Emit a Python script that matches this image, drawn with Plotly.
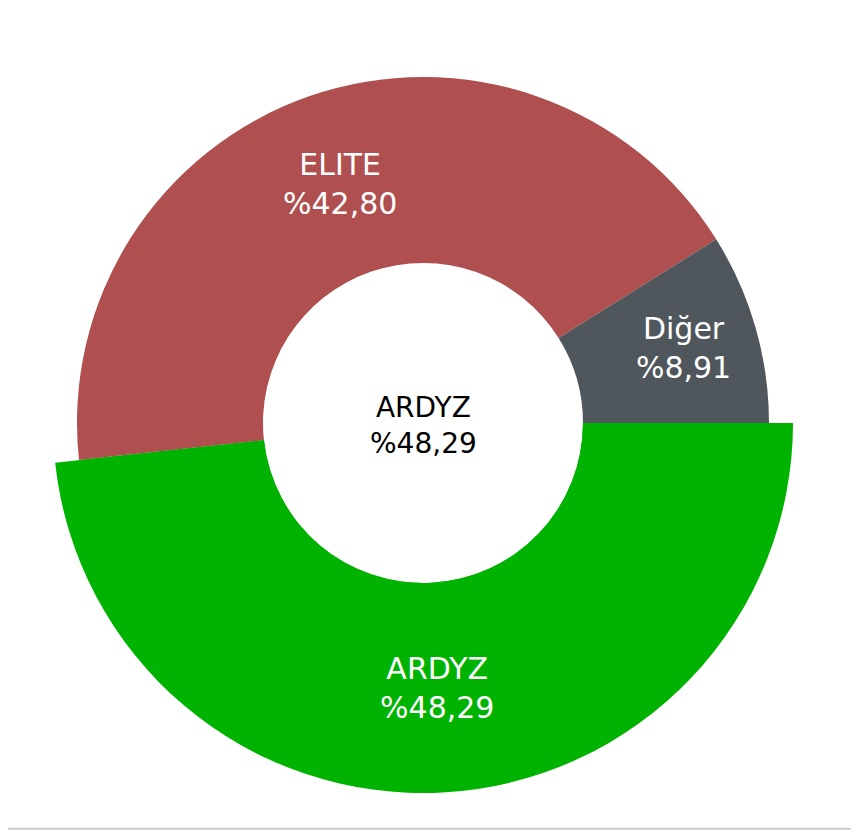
import plotly.graph_objects as go

# Data
labels = ["ARDYZ", "ELITE", "Diğer"]
values = [48.29, 42.80, 8.91]
colors = ["#00B300", "#B04F4F", "#50575C"]

# page has an 8px body margin, so figure fits inside 859x838 window
W, H = 843, 822

def pct(v):
    return "%" + f"{v:.2f}".replace(".", ",")

texts = [f"{l}<br>{pct(v)}" for l, v in zip(labels, values)]

# Geometry (figure pixels)
cx, cy = 415, 415
r_small, r_big, r_hole = 346, 370, 160

def dom(r):
    return dict(
        x=[(cx - r) / W, (cx + r) / W],
        y=[(H - cy - r) / H, (H - cy + r) / H],
    )

label_font = dict(family="DejaVu Sans", size=30, color="white")

fig = go.Figure()

# Base donut (ELITE, Diğer)
fig.add_trace(go.Pie(
    labels=labels, values=values, sort=False, direction="clockwise", rotation=90,
    hole=r_hole / r_small, domain=dom(r_small),
    marker=dict(colors=colors, line=dict(width=0)),
    text=["", texts[1], texts[2]], textinfo="text", textposition="inside",
    insidetextorientation="horizontal",
    textfont=label_font,
    showlegend=False, hoverinfo="label+percent",
))

# Enlarged ARDYZ slice
fig.add_trace(go.Pie(
    labels=labels, values=values, sort=False, direction="clockwise", rotation=90,
    hole=r_hole / r_big, domain=dom(r_big),
    marker=dict(colors=[colors[0], "rgba(0,0,0,0)", "rgba(0,0,0,0)"], line=dict(width=0)),
    text=[texts[0], "", ""], textinfo="text", textposition="inside",
    insidetextorientation="horizontal",
    textfont=label_font,
    showlegend=False, hoverinfo="skip",
))

fig.add_annotation(
    x=cx / W, y=(H - 417) / H, xref="paper", yref="paper",
    text=texts[0], showarrow=False,
    font=dict(family="DejaVu Sans", size=28, color="black"),
    xanchor="center", yanchor="middle",
)

fig.add_shape(type="line", xref="paper", yref="paper",
              x0=0, x1=1, y0=1.2 / H, y1=1.2 / H,
              line=dict(color="#CCCCCC", width=2))

fig.update_layout(
    width=W, height=H, margin=dict(l=0, r=0, t=0, b=0),
    paper_bgcolor="white", plot_bgcolor="white",
)

fig.write_html("out.html")
